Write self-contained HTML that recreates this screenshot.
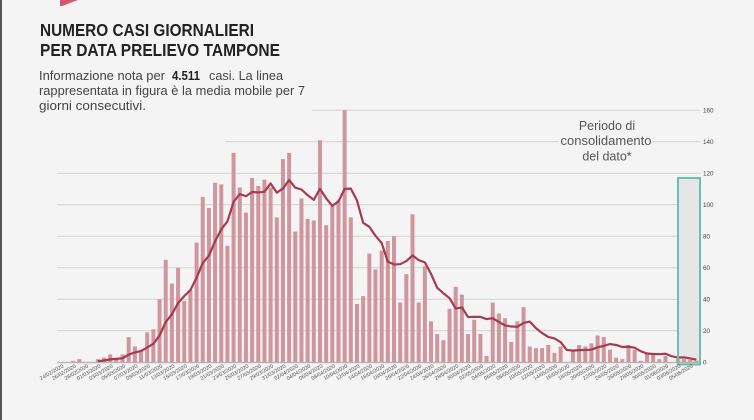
<!DOCTYPE html>
<html><head><meta charset="utf-8"><style>
html,body{margin:0;padding:0;background:#f4f4f4;}
svg{display:block;}
</style></head><body>
<svg width="754" height="420" viewBox="0 0 754 420" xmlns="http://www.w3.org/2000/svg">
<rect x="0" y="0" width="754" height="420" fill="#f4f4f4"/>
<rect x="0" y="0" width="2" height="420" fill="#555"/>
<polygon points="60,0 78,0 62,6 60,6" fill="#d4596b"/>

<g font-family="'Liberation Sans', sans-serif">
<text x="40" y="36" font-size="17.5" font-weight="bold" fill="#222" textLength="214" lengthAdjust="spacingAndGlyphs">NUMERO CASI GIORNALIERI</text>
<text x="40" y="56" font-size="17.5" font-weight="bold" fill="#222" textLength="240" lengthAdjust="spacingAndGlyphs">PER DATA PRELIEVO TAMPONE</text>
<text x="39" y="80" font-size="13" fill="#444" textLength="126" lengthAdjust="spacingAndGlyphs">Informazione nota per</text>
<text x="172" y="80" font-size="13" font-weight="bold" fill="#222" textLength="28" lengthAdjust="spacingAndGlyphs">4.511</text>
<text x="209" y="80" font-size="13" fill="#444" textLength="74" lengthAdjust="spacingAndGlyphs">casi. La linea</text>
<text x="39" y="95" font-size="13" fill="#444" textLength="266" lengthAdjust="spacingAndGlyphs">rappresentata in figura è la media mobile per 7</text>
<text x="39" y="110" font-size="13" fill="#444" textLength="107" lengthAdjust="spacingAndGlyphs">giorni consecutivi.</text>
</g>

<!-- gridlines -->
<g stroke="#d2d2d2" stroke-width="1">
<line x1="312" y1="110.3" x2="700" y2="110.3"/>
<line x1="225" y1="141.8" x2="700" y2="141.8"/>
<line x1="57" y1="173.3" x2="700" y2="173.3"/>
<line x1="57" y1="204.8" x2="700" y2="204.8"/>
<line x1="57" y1="236.3" x2="700" y2="236.3"/>
<line x1="57" y1="267.8" x2="700" y2="267.8"/>
<line x1="57" y1="299.3" x2="700" y2="299.3"/>
<line x1="57" y1="330.8" x2="700" y2="330.8"/>
</g>

<!-- consolidation box fill -->
<rect x="678" y="178" width="22" height="186.5" fill="#e6e6e6"/>

<line x1="57" y1="362.5" x2="700" y2="362.5" stroke="#b8b8b8" stroke-width="1.5"/>

<!-- bars -->
<g transform="translate(67,362.3) scale(6.17,-1.575)">
<path fill="none" stroke="#cf969e" stroke-width="4" vector-effect="non-scaling-stroke" d="M1 0V1M2 0V2M5 0V2M6 0V3M7 0V5M8 0V3M9 0V5M10 0V16M11 0V10M12 0V8M13 0V19M14 0V21M15 0V40M16 0V65M17 0V50M18 0V60M19 0V39M20 0V46M21 0V76M22 0V105M23 0V98M24 0V114M25 0V113M26 0V74M27 0V133M28 0V111M29 0V95M30 0V117M31 0V112M32 0V116M33 0V111M34 0V92M35 0V129M36 0V133M37 0V83M38 0V104M39 0V91M40 0V90M41 0V141M42 0V87M43 0V99M44 0V103M45 0V160M46 0V92M47 0V37M48 0V42M49 0V69M50 0V59M51 0V71M52 0V77M53 0V80M54 0V38M55 0V56M56 0V94M57 0V38M58 0V61M59 0V26M60 0V18M61 0V14M62 0V34M63 0V48M64 0V43M65 0V18M66 0V27M67 0V18M68 0V4M69 0V38M70 0V31M71 0V28M72 0V13M73 0V26M74 0V35M75 0V10M76 0V9M77 0V9M78 0V11M79 0V6M80 0V10M82 0V7M83 0V11M84 0V10M85 0V12M86 0V17M87 0V16M88 0V8M89 0V3M90 0V2M91 0V11M92 0V8M93 0V1M94 0V6M95 0V6M96 0V2M97 0V4M99 0V2M100 0V2M101 0V1.5M102 0V1"/>
<polyline fill="none" stroke="#a63a4f" stroke-width="2.2" stroke-linejoin="round" vector-effect="non-scaling-stroke" points="5,0.71 6,1.14 7,1.86 8,2.14 9,2.57 10,4.86 11,6.29 12,7.14 13,9.43 14,11.71 15,17 16,25.57 17,30.43 18,37.57 19,42 20,45.86 21,53.71 22,63 23,67.71 24,76.86 25,84.43 26,89.43 27,101.86 28,106.86 29,105.43 30,108.14 31,107.86 32,108.29 33,113.57 34,107.71 35,110.29 36,115.71 37,110.86 38,109.71 39,106.14 40,103.14 41,110.14 42,104.14 43,99.29 44,102.14 45,110.14 46,110.29 47,102.71 48,88.57 49,86 50,80.29 51,75.71 52,63.86 53,62.14 54,62.29 55,64.29 56,67.86 57,64.86 58,63.43 59,56.14 60,47.29 61,43.86 62,40.71 63,34.14 64,34.86 65,28.71 66,28.86 67,28.86 68,27.43 69,28 70,25.57 71,23.43 72,22.71 73,22.57 74,25 75,25.86 76,21.71 77,18.57 78,16.14 79,15.14 80,12.86 81,7.86 82,7.43 83,7.71 84,7.86 85,8 86,9.57 87,10.43 88,11.57 89,11 90,9.71 91,9.86 92,9.29 93,7 94,5.57 95,5.29 96,5.14 97,5.43 98,3.86 99,3 100,3.14 101,2.43 102,1.71"/>
</g>

<!-- consolidation box stroke -->
<rect x="678" y="178" width="22" height="186.5" fill="none" stroke="#6bbfae" stroke-width="2"/>

<!-- annotation -->
<rect x="559" y="134" width="94" height="13" fill="#f4f4f4"/>
<g font-family="'Liberation Sans', sans-serif" font-size="12.5" fill="#555" text-anchor="middle">
<text x="607" y="130">Periodo di</text>
<text x="606" y="145" textLength="91" lengthAdjust="spacingAndGlyphs">consolidamento</text>
<text x="607" y="160.5">del dato*</text>
</g>

<!-- y axis labels -->
<g font-family="'Liberation Sans', sans-serif" font-size="6.3" fill="#444">
<text x="703" y="364.5">0</text>
<text x="703" y="333">20</text>
<text x="703" y="301.5">40</text>
<text x="703" y="270">60</text>
<text x="703" y="238.5">80</text>
<text x="703" y="207">100</text>
<text x="703" y="175.5">120</text>
<text x="703" y="144">140</text>
<text x="703" y="112.5">160</text>
</g>

<!-- x axis labels -->
<g font-family="'Liberation Sans', sans-serif" font-size="5.3" fill="#555" text-anchor="end">
<text transform="translate(64,367) rotate(-30)">24/02/2020</text>
<text transform="translate(76.34,367) rotate(-30)">26/02/2020</text>
<text transform="translate(88.68,367) rotate(-30)">28/02/2020</text>
<text transform="translate(101.02,367) rotate(-30)">01/03/2020</text>
<text transform="translate(113.36,367) rotate(-30)">03/03/2020</text>
<text transform="translate(125.7,367) rotate(-30)">05/03/2020</text>
<text transform="translate(138.04,367) rotate(-30)">07/03/2020</text>
<text transform="translate(150.38,367) rotate(-30)">09/03/2020</text>
<text transform="translate(162.72,367) rotate(-30)">11/03/2020</text>
<text transform="translate(175.06,367) rotate(-30)">13/03/2020</text>
<text transform="translate(187.4,367) rotate(-30)">15/03/2020</text>
<text transform="translate(199.74,367) rotate(-30)">17/03/2020</text>
<text transform="translate(212.08,367) rotate(-30)">19/03/2020</text>
<text transform="translate(224.42,367) rotate(-30)">21/03/2020</text>
<text transform="translate(236.76,367) rotate(-30)">23/03/2020</text>
<text transform="translate(249.1,367) rotate(-30)">25/03/2020</text>
<text transform="translate(261.44,367) rotate(-30)">27/03/2020</text>
<text transform="translate(273.78,367) rotate(-30)">29/03/2020</text>
<text transform="translate(286.12,367) rotate(-30)">31/03/2020</text>
<text transform="translate(298.46,367) rotate(-30)">02/04/2020</text>
<text transform="translate(310.8,367) rotate(-30)">04/04/2020</text>
<text transform="translate(323.14,367) rotate(-30)">06/04/2020</text>
<text transform="translate(335.48,367) rotate(-30)">08/04/2020</text>
<text transform="translate(347.82,367) rotate(-30)">10/04/2020</text>
<text transform="translate(360.16,367) rotate(-30)">12/04/2020</text>
<text transform="translate(372.5,367) rotate(-30)">14/04/2020</text>
<text transform="translate(384.84,367) rotate(-30)">16/04/2020</text>
<text transform="translate(397.18,367) rotate(-30)">18/04/2020</text>
<text transform="translate(409.52,367) rotate(-30)">20/04/2020</text>
<text transform="translate(421.86,367) rotate(-30)">22/04/2020</text>
<text transform="translate(434.2,367) rotate(-30)">24/04/2020</text>
<text transform="translate(446.54,367) rotate(-30)">26/04/2020</text>
<text transform="translate(458.88,367) rotate(-30)">28/04/2020</text>
<text transform="translate(471.22,367) rotate(-30)">30/04/2020</text>
<text transform="translate(483.56,367) rotate(-30)">02/05/2020</text>
<text transform="translate(495.9,367) rotate(-30)">04/05/2020</text>
<text transform="translate(508.24,367) rotate(-30)">06/05/2020</text>
<text transform="translate(520.58,367) rotate(-30)">08/05/2020</text>
<text transform="translate(532.92,367) rotate(-30)">10/05/2020</text>
<text transform="translate(545.26,367) rotate(-30)">12/05/2020</text>
<text transform="translate(557.6,367) rotate(-30)">14/05/2020</text>
<text transform="translate(569.94,367) rotate(-30)">16/05/2020</text>
<text transform="translate(582.28,367) rotate(-30)">18/05/2020</text>
<text transform="translate(594.62,367) rotate(-30)">20/05/2020</text>
<text transform="translate(606.96,367) rotate(-30)">22/05/2020</text>
<text transform="translate(619.3,367) rotate(-30)">24/05/2020</text>
<text transform="translate(631.64,367) rotate(-30)">26/05/2020</text>
<text transform="translate(643.98,367) rotate(-30)">28/05/2020</text>
<text transform="translate(656.32,367) rotate(-30)">30/05/2020</text>
<text transform="translate(668.66,367) rotate(-30)">01/06/2020</text>
<text transform="translate(681,367) rotate(-30)">03/06/2020</text>
<text transform="translate(693.34,367) rotate(-30)">05/06/2020</text>
</g>
</svg>
</body></html>
